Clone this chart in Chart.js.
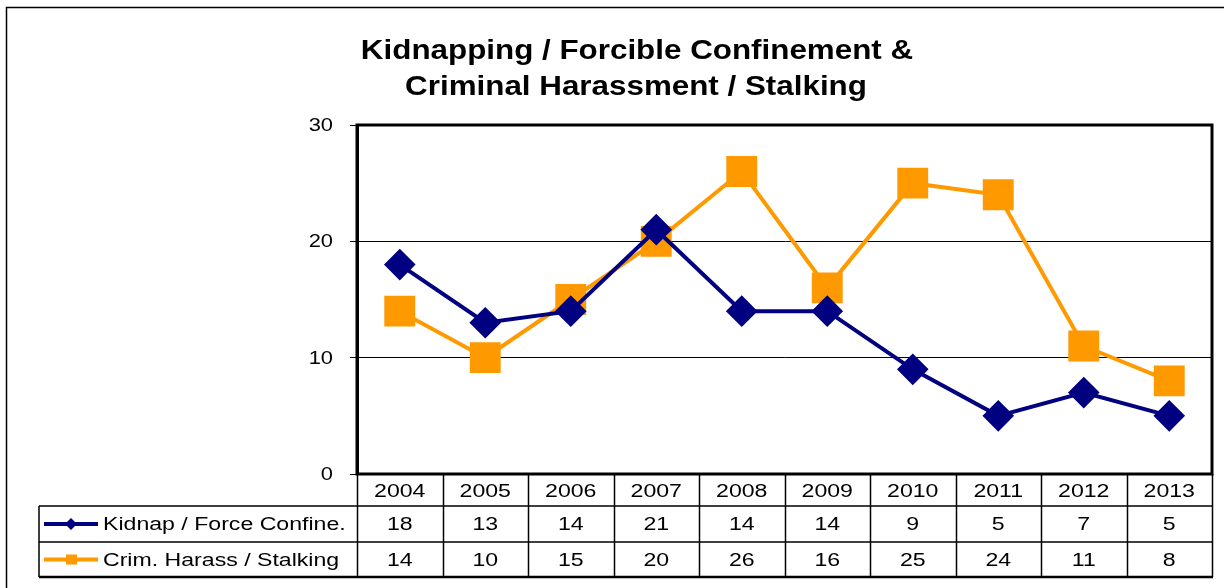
<!DOCTYPE html>
<html>
<head>
<meta charset="utf-8">
<script src="https://cdn.jsdelivr.net/npm/chart.js@4/dist/chart.umd.min.js"></script>
<style>
  body { margin: 0; background: #fff; }
  #wrap { position: relative; width: 1224px; height: 588px; }
</style>
</head>
<body>
<div id="wrap"><canvas id="chart" width="1224" height="588"></canvas></div>
<script>
// Chart data
const years = ['2004', '2005', '2006', '2007', '2008', '2009', '2010', '2011', '2012', '2013'];
const kidnapValues = [18, 13, 14, 21, 14, 14, 9, 5, 7, 5];
const harassValues = [14, 10, 15, 20, 26, 16, 25, 24, 11, 8];
const seriesNames = ['Kidnap / Force Confine.', 'Crim. Harass / Stalking'];
const titleLines = ['Kidnapping / Forcible Confinement &', 'Criminal Harassment / Stalking'];
const yTicks = [0, 10, 20, 30];

const NAVY = '#000080';
const ORANGE = '#FF9900';
const FONT = 'Arial, "Liberation Sans", sans-serif';

// the original text is a bit wider than plain Arial, so stretch it sideways
function stretchText(c, text, x, y, align, font, sx) {
  c.save();
  c.font = font;
  c.textAlign = align;
  c.textBaseline = 'alphabetic';
  c.translate(x, y);
  c.scale(sx, 1);
  c.fillText(text, 0, 0);
  c.restore();
}

// Outer frame, title, plot box, y labels and data table
const tablePlugin = {
  id: 'dataTable',
  beforeDraw(chart) {
    const c = chart.ctx;
    c.save();
    c.fillStyle = '#fff';
    c.fillRect(0, 0, chart.width, chart.height);
    c.strokeStyle = '#000';
    c.lineWidth = 1.5;
    c.beginPath();
    c.moveTo(6.5, 588);
    c.lineTo(6.5, 7.5);
    c.lineTo(1224, 7.5);
    c.stroke();
    c.fillStyle = '#000';
    stretchText(c, titleLines[0], 637, 59, 'center', 'bold 28px ' + FONT, 1.12);
    stretchText(c, titleLines[1], 636, 95, 'center', 'bold 28px ' + FONT, 1.12);
    c.restore();
  },
  afterDraw(chart) {
    const c = chart.ctx;
    const area = chart.chartArea;
    const x = chart.scales.x;
    const yScale = chart.scales.y;
    const left = area.left, right = area.right;
    const colW = (right - left) / years.length;
    const tableLeft = 39;
    const rowTop = [area.bottom, 506, 542];
    const tableBottom = 577;
    const textFont = '17.5px ' + FONT;

    c.save();
    // plot box
    c.strokeStyle = '#000';
    c.lineWidth = 3;
    c.strokeRect(left, area.top, right - left, area.bottom - area.top);

    // y labels
    c.fillStyle = '#000';
    yTicks.forEach(v => {
      stretchText(c, String(v), 333, yScale.getPixelForValue(v) + 6, 'right', textFont, 1.25);
    });

    // table lines
    c.lineWidth = 1.5;
    c.beginPath();
    c.moveTo(tableLeft, rowTop[1]); c.lineTo(right, rowTop[1]);
    c.moveTo(tableLeft, rowTop[2]); c.lineTo(right, rowTop[2]);
    c.moveTo(tableLeft, rowTop[1]); c.lineTo(tableLeft, tableBottom);
    for (let i = 0; i <= years.length; i++) {
      const bx = Math.round(left + i * colW) + 0.5;
      c.moveTo(bx, area.bottom); c.lineTo(bx, tableBottom);
    }
    c.stroke();
    c.lineWidth = 2.5;
    c.beginPath();
    c.moveTo(tableLeft, tableBottom); c.lineTo(right + 1, tableBottom);
    c.stroke();

    // table text
    const rows = [years, kidnapValues, harassValues];
    const rowBase = [497, 530, 566];
    rows.forEach((row, r) => {
      row.forEach((v, i) => {
        stretchText(c, String(v), x.getPixelForValue(i), rowBase[r], 'center', textFont, 1.32);
      });
    });

    // legend keys
    const colors = [NAVY, ORANGE];
    seriesNames.forEach((name, s) => {
      const y = (rowTop[s + 1] + (s === 0 ? rowTop[2] : tableBottom)) / 2;
      c.strokeStyle = colors[s];
      c.fillStyle = colors[s];
      c.lineWidth = 4;
      c.beginPath();
      c.moveTo(44, y); c.lineTo(98, y);
      c.stroke();
      c.beginPath();
      if (s === 0) {
        c.moveTo(71, y - 6); c.lineTo(77, y); c.lineTo(71, y + 6); c.lineTo(65, y);
        c.closePath();
      } else {
        c.rect(66, y - 5, 11, 10);
      }
      c.fill();
      c.fillStyle = '#000';
      stretchText(c, name, 103, rowBase[s + 1], 'left', textFont, 1.32);
    });
    c.restore();
  }
};

new Chart(document.getElementById('chart'), {
  type: 'line',
  data: {
    labels: years,
    datasets: [
      {
        label: seriesNames[0],
        data: kidnapValues,
        borderColor: NAVY,
        backgroundColor: NAVY,
        borderWidth: 4,
        pointStyle: 'rectRot',
        pointRadius: 13,
        pointHoverRadius: 13,
        tension: 0
      },
      {
        label: seriesNames[1],
        data: harassValues,
        borderColor: ORANGE,
        backgroundColor: ORANGE,
        borderWidth: 4,
        pointStyle: 'rect',
        pointRadius: 19,
        pointHoverRadius: 19,
        tension: 0
      }
    ]
  },
  options: {
    responsive: false,
    animation: false,
    layout: { autoPadding: false, padding: { left: 0, right: 12, top: 125, bottom: 114 } },
    plugins: {
      legend: { display: false },
      tooltip: { enabled: false },
      title: { display: false }
    },
    scales: {
      x: {
        display: false,
        offset: true
      },
      y: {
        min: 0,
        max: 30,
        afterBuildTicks(scale) {
          scale.ticks = yTicks.map(v => ({ value: v }));
        },
        afterFit(scale) {
          scale.width = 357;
        },
        ticks: {
          color: 'rgba(0,0,0,0)',
          font: { family: FONT, size: 18 },
          padding: 15
        },
        grid: {
          color: '#000',
          lineWidth: 1,
          tickLength: 7,
          drawOnChartArea: true
        },
        border: { display: true, color: '#000', width: 3 }
      }
    }
  },
  plugins: [tablePlugin]
});
</script>
</body>
</html>
